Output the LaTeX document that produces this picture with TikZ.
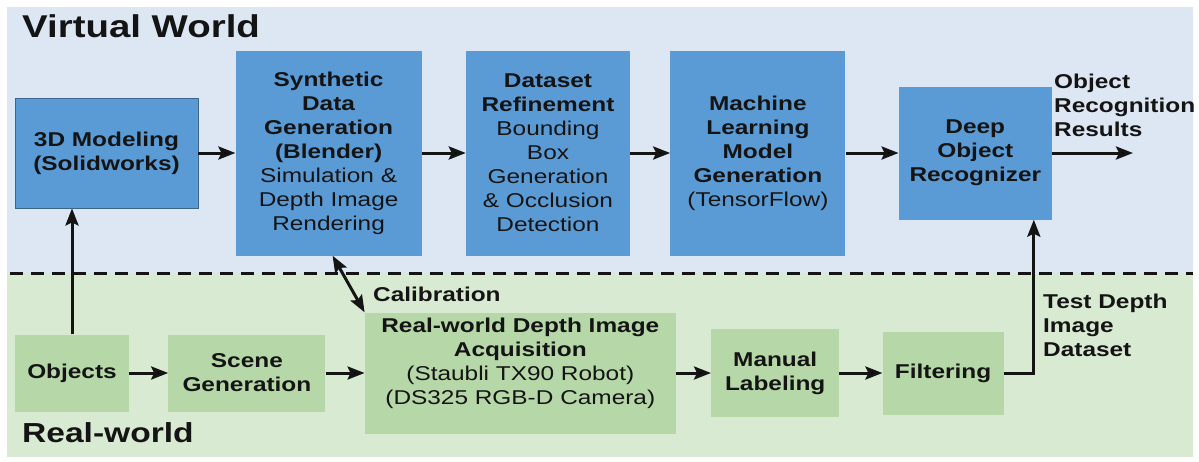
\documentclass[tikz,border=0pt]{standalone}
\usepackage{fontspec}
\setmainfont{Liberation Sans}[FakeStretch=1.22]
\usetikzlibrary{arrows.meta,positioning}
\definecolor{vbg}{HTML}{DDE7F3}
\definecolor{rbg}{HTML}{D9EAD3}
\definecolor{vbox}{HTML}{5B9BD5}
\definecolor{rbox}{HTML}{B6D7A8}
\definecolor{ink}{HTML}{141414}

\begin{document}
\begin{tikzpicture}[x=1pt,y=-1pt,
    txt/.style={font=\fontsize{20}{24}\selectfont,text=ink,align=center,inner sep=0pt},
    bold/.style={txt,font=\fontsize{20}{24}\selectfont\bfseries},
    vblk/.style={txt,fill=vbox,minimum height=205pt},
    rblk/.style={txt,fill=rbox,minimum height=77pt},
    flow/.style={draw=ink,line width=3pt,-{Stealth[length=17pt,width=13pt,inset=3pt]}},
    title/.style={text=ink,inner sep=0pt,anchor=base west}]
 \useasboundingbox (0,0) rectangle (1199,461);
 \fill[vbg] (7,7) rectangle (1193,273);
 \fill[rbg] (7,273) rectangle (1193,457);
 \draw[ink,line width=3pt,dash pattern=on 13pt off 8pt] (10,273) -- (1193,273);
 \node[title,font=\fontsize{31.5}{34}\selectfont\bfseries] (vw) at (22,37) {Virtual World};
 \node[title,font=\fontsize{27.5}{32}\selectfont\bfseries] (rw) at (22,442) {Real-world};
 % virtual world
 \node[vblk,bold,minimum width=183pt,minimum height=110pt,draw=vbox!65!black,line width=0.8pt] (model) at (106.5,153)
  {3D Modeling\\(Solidworks)};
 \node[vblk,right=37pt of model,minimum width=186pt] (synth)
  {\textbf{Synthetic}\\\textbf{Data}\\\textbf{Generation}\\\textbf{(Blender)}\\Simulation \&\\Depth Image\\Rendering};
 \node[vblk,right=44pt of synth,minimum width=164pt] (refine)
  {\textbf{Dataset}\\\textbf{Refinement}\\Bounding\\Box\\Generation\\\& Occlusion\\Detection};
 \node[vblk,right=40pt of refine,minimum width=175pt] (mlgen)
  {\textbf{Machine}\\\textbf{Learning}\\\textbf{Model}\\\textbf{Generation}\\(TensorFlow)};
 \node[vblk,bold,right=53pt of mlgen,minimum width=153pt,minimum height=133pt] (recog)
  {Deep\\Object\\Recognizer};
 \node[bold,anchor=north west,align=left] (res) at (1054,74) {Object\\Recognition\\Results};
 \coordinate (out) at (1133,153);
 % real world
 \node[rblk,bold,minimum width=114pt] (objects) at (72,373) {Objects};
 \node[rblk,bold,right=39pt of objects,minimum width=157pt] (scene) {Scene\\Generation};
 \node[rblk,right=39pt of scene,minimum width=311pt,minimum height=121pt] (acquire)
  {\textbf{Real-world Depth Image}\\\textbf{Acquisition}\\(Staubli TX90 Robot)\\(DS325 RGB-D Camera)\\\mbox{}};
 \node[rblk,bold,right=35pt of acquire,minimum width=128pt,minimum height=88pt] (manual) {Manual\\Labeling};
 \node[rblk,bold,right=43pt of manual,minimum width=121pt,minimum height=83pt] (filter) {Filtering};
 \node[bold,anchor=base west] (calib) at (373,301) {Calibration};
 \node[bold,anchor=north west,align=left] (testset) at (1043,294) {Test Depth\\Image\\Dataset};
 \coordinate (cal) at ([xshift=4pt]synth.south);
 % connectors
 \path[flow] foreach \a/\b in {model/synth,synth/refine,refine/mlgen,mlgen/recog,recog/out,
   objects/scene,scene/acquire,acquire/manual,manual/filter} {(\a) edge (\b)};
 \draw[flow] (objects.north) -- (objects.north |- model.south);
 \draw[flow] (filter.east) -| ([xshift=58.5pt]recog.south);
 \draw[flow,{Stealth[length=17pt,width=13pt,inset=3pt]}-{Stealth[length=17pt,width=13pt,inset=3pt]}]
  (cal) -- (acquire.north west);
\end{tikzpicture}
\end{document}
